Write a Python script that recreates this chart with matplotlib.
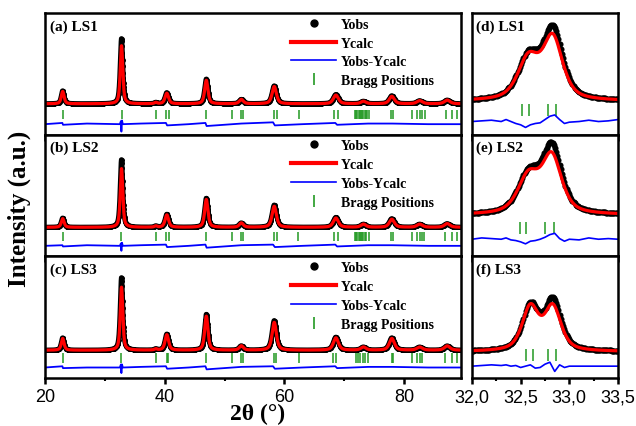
import numpy as np
import matplotlib
matplotlib.use("Agg")
import matplotlib.pyplot as plt
from matplotlib.lines import Line2D
from matplotlib.ticker import MultipleLocator, FuncFormatter

# ---- peak tables (2theta, height, FWHM) ----
main_pos = [22.95, 32.78, 38.5, 40.35, 46.95, 52.8, 58.3, 68.6, 73.2, 77.95, 82.6, 87.2]
main_wid = [0.55, 0.50, 0.50, 0.70, 0.65, 0.80, 0.85, 1.00, 1.00, 1.00, 1.10, 1.10]

a_calc = [0.20, 0.94, 0.02, 0.17, 0.38, 0.07, 0.28, 0.14, 0.04, 0.12, 0.05, 0.06]
a_obs = [0.21, 1.06, 0.02, 0.18, 0.40, 0.07, 0.29, 0.15, 0.04, 0.13, 0.05, 0.06]
b_calc = [0.14, 0.95, 0.02, 0.20, 0.45, 0.07, 0.34, 0.15, 0.05, 0.13, 0.05, 0.06]
b_obs = [0.15, 1.10, 0.02, 0.21, 0.47, 0.07, 0.36, 0.16, 0.05, 0.14, 0.05, 0.06]
c_calc = [0.19, 1.02, 0.02, 0.25, 0.55, 0.07, 0.45, 0.20, 0.05, 0.19, 0.05, 0.07]
c_obs = [0.20, 1.18, 0.02, 0.26, 0.58, 0.07, 0.48, 0.21, 0.05, 0.20, 0.05, 0.07]
main_base = [0.0, -0.03, -0.05]

# Bragg reflections
a_bragg = [22.94, 32.78, 38.5, 40.28, 40.67, 46.94, 51.28, 52.72, 53.06, 58.22, 58.78,
           62.39, 68.28, 69.0, 71.8, 72.0, 72.2, 72.4, 72.6, 72.8, 73.0, 73.2, 73.4,
           73.6, 73.8, 74.17, 77.89, 78.22, 81.39, 82.22, 82.61, 83.06, 83.44, 86.94,
           88.06, 88.89]
b_bragg = [22.94, 32.75, 38.5, 40.25, 40.64, 46.9, 51.25, 52.7, 53.03, 58.2, 58.75,
           62.35, 68.25, 68.95, 71.8, 72.0, 72.2, 72.4, 72.6, 72.8, 73.0, 73.2, 73.4,
           73.6, 74.15, 77.85, 78.2, 81.35, 82.2, 82.6, 83.0, 83.4, 86.9, 88.0, 88.85]
c_bragg = [22.94, 32.75, 38.5, 40.3, 40.6, 46.9, 51.3, 52.7, 53.0, 58.2, 58.6, 62.4,
           68.2, 68.7, 72.0, 72.3, 72.7, 73.2, 73.5, 74.0, 77.9, 78.2, 81.4, 82.2,
           82.6, 83.0, 86.9, 88.0, 88.8]

# difference curves (2theta, value)
diff_x = [20, 22.9, 23.0, 27.0, 32.5, 32.68, 32.76, 32.86, 33.0, 36.0, 40.2, 40.4,
          44.0, 46.8, 47.0, 52.8, 58.1, 58.4, 63.0, 68.5, 68.8, 74.0, 78.0, 84.0, 89.5]
a_diff_y = [0, 0.02, -0.01, 0.01, 0, 0.05, -0.12, 0.06, 0, 0.01, 0.02, -0.02,
            0.0, 0.02, -0.03, 0.01, 0.03, -0.02, 0.0, 0.02, -0.01, 0.01, 0.01, 0.0, 0]
b_diff_y = [0, 0.01, -0.01, 0.01, 0, 0.04, -0.08, 0.05, 0, 0.01, 0.02, -0.02,
            0.0, 0.02, -0.03, 0.01, 0.02, -0.02, 0.0, 0.02, -0.01, 0.01, 0.01, 0.0, 0]
c_diff_y = [0, 0.02, -0.01, 0.0, 0, 0.05, -0.09, 0.05, 0, 0.01, 0.02, -0.02,
            0.0, 0.02, -0.03, 0.01, 0.02, -0.02, 0.0, 0.02, -0.01, 0.01, 0.01, 0.0, 0]

# ---- zoomed doublet around 32.7 ----
zoom_pos = {"d": [32.58, 32.83], "e": [32.58, 32.82], "f": [32.60, 32.83]}
zoom_wid = {"d": [0.26, 0.24], "e": [0.26, 0.24], "f": [0.20, 0.20]}
zoom_calc = {"d": [0.62, 0.93], "e": [0.56, 0.86], "f": [0.66, 0.66]}
zoom_obs = {"d": [0.64, 1.06], "e": [0.58, 1.00], "f": [0.68, 0.76]}
zoom_base = {"d": -0.09, "e": 0.03, "f": -0.2}
zoom_bragg = {"d": [32.51, 32.59, 32.78, 32.86],
              "e": [32.49, 32.56, 32.75, 32.84],
              "f": [32.55, 32.63, 32.78, 32.86]}
zd_x = [32.0, 32.1, 32.2, 32.3, 32.35, 32.4, 32.45, 32.5, 32.55, 32.6, 32.65, 32.7,
        32.75, 32.8, 32.85, 32.9, 32.95, 33.0, 33.1, 33.2, 33.3, 33.4, 33.5]
zd_y = [0, 0.01, 0.02, 0.0, 0.03, 0.0, -0.03, -0.05, -0.09, -0.05, -0.03, -0.02,
        0.03, 0.08, 0.10, 0.03, -0.03, -0.01, 0.0, 0.02, 0.0, 0.01, 0.03]
ze_y = [0, 0.02, 0.01, 0.0, 0.02, -0.01, -0.02, -0.04, -0.07, -0.03, -0.02, 0.0,
        0.03, 0.07, 0.09, 0.01, -0.03, 0.0, -0.01, 0.02, 0.0, 0.01, 0.0]
zf_y = [0, 0.01, 0.02, 0.01, 0.02, 0.0, 0.01, -0.02, 0.0, 0.02, -0.03, -0.02,
        0.03, 0.06, -0.08, 0.02, -0.02, 0.0, 0.0, 0.0, 0.0, 0.0, 0.0]
zoom_diff = {"d": zd_y, "e": ze_y, "f": zf_y}
zoom_diff_off = {"d": -0.40, "e": -0.34, "f": -0.42}


def profile(x, pos, hts, wid, eta=0.6):
    y = np.zeros_like(x)
    for p, h, w in zip(pos, hts, wid):
        d = (x - p) / w
        y += h * (eta / (1 + 4 * d ** 2) + (1 - eta) * np.exp(-4 * np.log(2) * d ** 2))
    return y


serif = "Liberation Serif"
sans = "Liberation Sans"
GREEN = "#229922"

fig = plt.figure(figsize=(6.36, 4.27), dpi=100)
top, bot = 0.9672, 0.1124
h = (top - bot) / 3

panels = [("(a) LS1", a_calc, a_obs, a_bragg, a_diff_y),
          ("(b) LS2", b_calc, b_obs, b_bragg, b_diff_y),
          ("(c) LS3", c_calc, c_obs, c_bragg, c_diff_y)]
zooms = [("(d) LS1", "d"), ("(e) LS2", "e"), ("(f) LS3", "f")]

xc = np.arange(20, 89.5, 0.01)
xo = np.arange(20, 89.5, 0.04)
xzc = np.arange(32.0, 33.5, 0.002)
xzo = np.arange(32.0, 33.51, 0.012)


def style_x(ax, last):
    ax.set_yticks([])
    ax.tick_params(axis="x", which="major", direction="out", length=4, width=1.8,
                   labelsize=13)
    ax.tick_params(axis="x", which="minor", direction="out", length=2.5, width=1.5)
    for s in ax.spines.values():
        s.set_linewidth(1.8)
    if not last:
        ax.tick_params(axis="x", labelbottom=False)
    else:
        for t in ax.get_xticklabels():
            t.set_family(sans)


for i in range(3):
    y0 = top - (i + 1) * h
    lab, calc, obs, bragg, dy = panels[i]
    base = main_base[i]
    ax = fig.add_axes([0.0708, y0, 0.654, h])
    yo = base + profile(xo, main_pos, obs, main_wid)
    ax.plot(xo, yo, color="black", lw=3.6)
    ax.plot(xo, yo, "o", color="black", ms=3.6, mew=0)
    ax.plot(xc, base + profile(xc, main_pos, calc, main_wid), color="red", lw=2.3)
    ax.vlines(bragg, -0.25, -0.10, color=GREEN, lw=1.1)
    ax.plot(diff_x, np.array(dy) - 0.33, color="blue", lw=1.3)
    ax.set_xlim(20, 89.5)
    ax.set_ylim(-0.5, 1.47)
    ax.text(0.012, 0.95, lab, transform=ax.transAxes, ha="left", va="top",
            family=serif, weight="bold", fontsize=11)
    handles = [Line2D([], [], ls="none", marker="o", color="black", ms=5),
               Line2D([], [], color="red", lw=3),
               Line2D([], [], color="blue", lw=1.2),
               Line2D([], [], ls="none", marker="|", color=GREEN, ms=9, mew=1.2)]
    ax.legend(handles, ["Yobs", "Ycalc", "Yobs-Ycalc", "Bragg Positions"],
              loc="upper left", bbox_to_anchor=(0.572, 1.03), frameon=False,
              prop={"family": serif, "weight": "bold", "size": 10},
              handlelength=3.2, handletextpad=0.35, labelspacing=0.42,
              borderaxespad=0.2)
    ax.xaxis.set_major_locator(MultipleLocator(20))
    ax.xaxis.set_minor_locator(MultipleLocator(10))
    style_x(ax, i == 2)

    zlab, key = zooms[i]
    az = fig.add_axes([0.7421, y0, 0.2296, h])
    zb = zoom_base[key]
    az.plot(xzo, zb + profile(xzo, zoom_pos[key], zoom_obs[key], zoom_wid[key]),
            "o", color="black", ms=4.4, mew=0)
    az.plot(xzc, zb + profile(xzc, zoom_pos[key], zoom_calc[key], zoom_wid[key]),
            color="red", lw=2.3)
    off = zoom_diff_off[key]
    az.vlines(zoom_bragg[key], off + 0.08, off + 0.26, color=GREEN, lw=1.1)
    az.plot(zd_x, np.array(zoom_diff[key]) + off, color="blue", lw=1.2)
    az.set_xlim(32.0, 33.5)
    az.set_ylim(-0.6, 1.25)
    az.text(0.03, 0.95, zlab, transform=az.transAxes, ha="left", va="top",
            family=serif, weight="bold", fontsize=11)
    az.xaxis.set_major_locator(MultipleLocator(0.5))
    az.xaxis.set_minor_locator(MultipleLocator(0.25))
    az.xaxis.set_major_formatter(FuncFormatter(lambda v, p: f"{v:.1f}".replace(".", ",")))
    style_x(az, i == 2)

fig.text(0.405, 0.005, "2θ (°)", ha="center", va="bottom", family=serif,
         weight="bold", fontsize=17)
fig.text(0.03, 0.51, "Intensity (a.u.)", ha="center", va="center", rotation=90,
         family=serif, weight="bold", fontsize=18)

fig.savefig("out.png", dpi=100)
